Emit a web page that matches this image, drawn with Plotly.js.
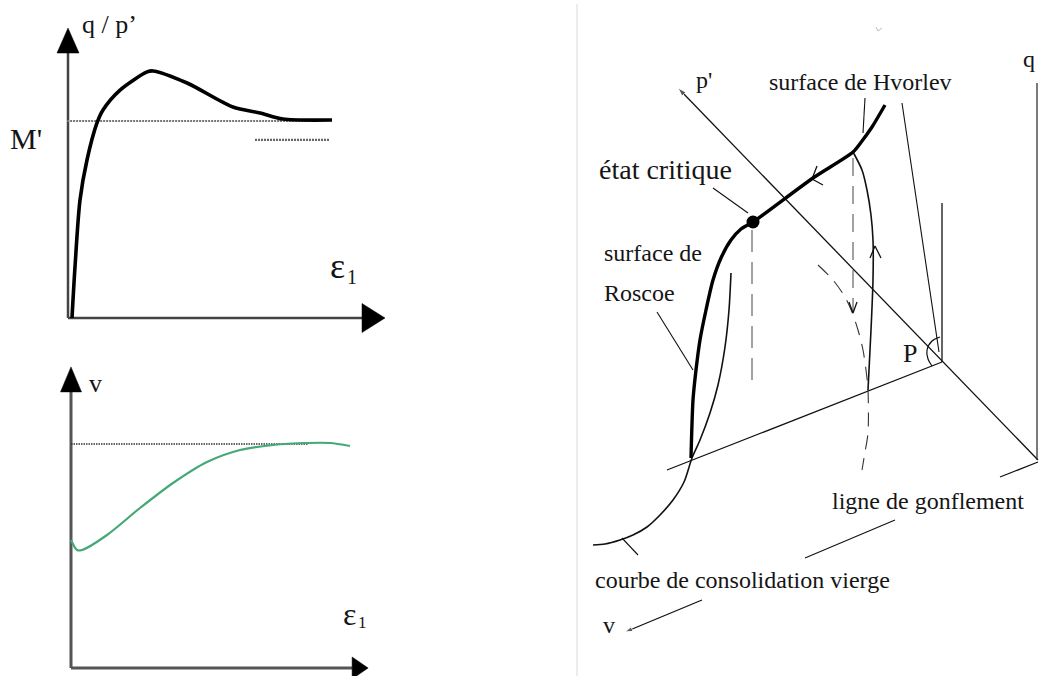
<!DOCTYPE html>
<html>
<head>
<meta charset="utf-8">
<script src="https://cdn.plot.ly/plotly-3.0.1.min.js"></script>
<style>html,body{margin:0;padding:0;background:#fff;}#chart{width:1053px;height:676px;}</style>
</head>
<body>
<div id="chart"></div>
<script>
// ---------- Top-left: q/p' versus axial strain eps1 ----------
const epsTop = [0.136, 0.238, 0.408, 0.646, 0.986, 1.19, 1.77, 2.69, 2.89, 4.05, 5.61, 6.53, 7.31, 8.98];
const qpTop  = [0, 0.259, 0.599, 0.802, 0.990, 1.056, 1.157, 1.249, 1.254, 1.193, 1.071, 1.041, 1.010, 1.005];
const mCrit = 1.0;            // M'
const mCritEps = [-0.03, 8.16];
const mLow = 0.904;
const mLowEps = [6.36, 8.91];
const topAxisEpsMax = 10, topAxisQpMax = 1.345;

// ---------- Bottom-left: specific volume v versus eps1 ----------
const epsBot = [0, 0.214, 0.393, 1.286, 2.464, 3.643, 4.857, 6.036, 7.214, 8.429, 9.25, 9.964];
const vBot   = [1.8286, 1.8107, 1.8107, 1.8375, 1.8857, 1.9304, 1.9679, 1.9893, 1.9982, 2.0018, 2.0018, 1.9964];
const vCrit = 2.0;
const vCritEps = [0, 8.46];
const botAxisEpsMax = 10.04, botV0 = 1.6, botAxisVMax = 2.093;

// ---------- Right: state boundary surface in (p', q, v) space (diagram units) ----------
const pAxisX = [1038, 678], pAxisY = [460, 88];
const qAxisX = [1037, 1037], qAxisY = [460, 83];
const vAxisX = [702, 625], vAxisY = [600, 632];
const swellX = [667, 942], swellY = [470, 362];
const stubX = [1000, 1038], stubY = [477, 462];
const pVertX = [942, 942], pVertY = [203, 362];
const stateX = [885, 872, 862, 853, 813, 753, 741, 731, 721, 713, 706, 700, 696, 693, 691];
const stateY = [105, 127, 141, 152, 178, 222, 229, 240, 258, 280, 310, 340, 370, 400, 458];
const ncX = [731, 729, 725, 718, 710, 700, 692, 684, 673, 660, 647, 633, 620, 605, 593];
const ncY = [273, 310, 347, 385, 413, 440, 458, 482, 500, 515, 527, 535, 540, 544, 545];
const elasticX = [853, 862, 867, 871, 873, 873, 871, 868];
const elasticY = [152, 170, 190, 215, 240, 280, 330, 390];
const dashArcX = [818, 833, 845, 852, 858, 863, 866, 868, 868, 865, 862];
const dashArcY = [265, 280, 297, 312, 330, 350, 370, 390, 433, 452, 470];
const critDropX = [752, 752], critDropY = [230, 390];
const hvDropX = [853, 853], hvDropY = [158, 312];
const critX = [753], critY = [222];
const leaderX = [713, 748, null, 657, 693, null, 865, 863, null, 902, 939, null, 805, 895, null, 622, 638];
const leaderY = [188, 213, null, 312, 370, null, 98, 133, null, 103, 352, null, 558, 520, null, 538, 555];
const chevX = [817, 812, 823, null, 870, 875, 881, null, 849, 853, 857];
const chevY = [166, 179, 185, null, 258, 246, 258, null, 302, 313, 302];
const pArcX = [940, 932, 927, 928, 932], pArcY = [337, 341, 350, 359, 366];

// linear maps (used only to place left-panel decorations in page pixels)
const topPx = e => 68 + e * 29.4, topPy = q => 318 - q * 197;
const botPx = e => 71 + e * 28, botPy = v => 668 - (v - botV0) * 560;

function tri(tipX, tipY, dir, len, half) {
  if (dir === 'up') return {x: [tipX - half, tipX + half, tipX, tipX - half], y: [tipY + len, tipY + len, tipY, tipY + len]};
  return {x: [tipX - len, tipX - len, tipX, tipX - len], y: [tipY - half, tipY + half, tipY, tipY - half]};
}
const heads = [
  tri(topPx(0), topPy(topAxisQpMax) - 25, 'up', 25, 11),
  tri(topPx(topAxisEpsMax) + 23, topPy(0), 'right', 23, 14.5),
  tri(botPx(0), botPy(botAxisVMax) - 25, 'up', 25, 10.5),
  tri(botPx(botAxisEpsMax) + 16, botPy(botV0), 'right', 16, 11)
];

const ink = '#111';
const traces = [];
// top-left
traces.push({x: [0, 0, null, 0, topAxisEpsMax], y: [0, topAxisQpMax, null, 0, 0], xaxis: 'x', yaxis: 'y', mode: 'lines', line: {color: '#444', width: 2.5}});
traces.push({x: mCritEps, y: [mCrit, mCrit], xaxis: 'x', yaxis: 'y', mode: 'lines', line: {color: '#777', width: 2.2, dash: '2px,1px'}});
traces.push({x: mLowEps, y: [mLow, mLow], xaxis: 'x', yaxis: 'y', mode: 'lines', line: {color: '#666', width: 2.2, dash: '2px,1px'}});
traces.push({x: epsTop, y: qpTop, xaxis: 'x', yaxis: 'y', mode: 'lines', line: {color: '#000', width: 3.6, shape: 'spline', smoothing: 0.8}});
// bottom-left
traces.push({x: [0, 0, null, 0, botAxisEpsMax], y: [botV0, botAxisVMax, null, botV0, botV0], xaxis: 'x2', yaxis: 'y2', mode: 'lines', line: {color: '#555', width: 3}});
traces.push({x: vCritEps, y: [vCrit, vCrit], xaxis: 'x2', yaxis: 'y2', mode: 'lines', line: {color: '#333', width: 1.6, dash: '1.5px,1px'}});
traces.push({x: epsBot, y: vBot, xaxis: 'x2', yaxis: 'y2', mode: 'lines', line: {color: '#45a877', width: 2.2, shape: 'spline', smoothing: 0.8}});
// arrowheads
heads.forEach(h => traces.push({x: h.x, y: h.y, xaxis: 'x3', yaxis: 'y3', mode: 'lines', fill: 'toself', fillcolor: '#000', line: {color: '#000', width: 0.5}}));
// separator
traces.push({x: [577, 577], y: [4, 676], xaxis: 'x3', yaxis: 'y3', mode: 'lines', line: {color: '#ececec', width: 2}});
traces.push({x: [876, 878, 882], y: [27, 31, 28], xaxis: 'x3', yaxis: 'y3', mode: 'lines', line: {color: '#bbb', width: 1}});
// right diagram
const thin = {color: ink, width: 1.3};
traces.push({x: pAxisX, y: pAxisY, xaxis: 'x3', yaxis: 'y3', mode: 'lines+markers', line: thin,
  marker: {symbol: 'arrow', angleref: 'previous', size: [0, 9], color: ink}});
traces.push({x: vAxisX, y: vAxisY, xaxis: 'x3', yaxis: 'y3', mode: 'lines+markers', line: thin,
  marker: {symbol: 'arrow', angleref: 'previous', size: [0, 8], color: ink}});
traces.push({x: qAxisX, y: qAxisY, xaxis: 'x3', yaxis: 'y3', mode: 'lines', line: {color: '#333', width: 1.3}});
traces.push({x: swellX, y: swellY, xaxis: 'x3', yaxis: 'y3', mode: 'lines', line: thin});
traces.push({x: stubX, y: stubY, xaxis: 'x3', yaxis: 'y3', mode: 'lines', line: thin});
traces.push({x: pVertX, y: pVertY, xaxis: 'x3', yaxis: 'y3', mode: 'lines', line: thin});
traces.push({x: leaderX, y: leaderY, xaxis: 'x3', yaxis: 'y3', mode: 'lines', line: {color: ink, width: 1.1}});
traces.push({x: ncX, y: ncY, xaxis: 'x3', yaxis: 'y3', mode: 'lines', line: {color: ink, width: 1.6, shape: 'spline', smoothing: 0.8}});
traces.push({x: elasticX, y: elasticY, xaxis: 'x3', yaxis: 'y3', mode: 'lines', line: {color: ink, width: 1.6, shape: 'spline', smoothing: 0.8}});
traces.push({x: dashArcX, y: dashArcY, xaxis: 'x3', yaxis: 'y3', mode: 'lines', line: {color: '#333', width: 1.1, dash: '14px,9px', shape: 'spline', smoothing: 0.8}});
traces.push({x: critDropX, y: critDropY, xaxis: 'x3', yaxis: 'y3', mode: 'lines', line: {color: '#444', width: 1, dash: '22px,10px'}});
traces.push({x: hvDropX, y: hvDropY, xaxis: 'x3', yaxis: 'y3', mode: 'lines', line: {color: '#444', width: 1, dash: '18px,10px'}});
traces.push({x: chevX, y: chevY, xaxis: 'x3', yaxis: 'y3', mode: 'lines', line: {color: ink, width: 1.3}});
traces.push({x: pArcX, y: pArcY, xaxis: 'x3', yaxis: 'y3', mode: 'lines', line: {color: ink, width: 1.2, shape: 'spline'}});
traces.push({x: stateX, y: stateY, xaxis: 'x3', yaxis: 'y3', mode: 'lines', line: {color: '#000', width: 3.4, shape: 'spline', smoothing: 0.7}});
traces.push({x: critX, y: critY, xaxis: 'x3', yaxis: 'y3', mode: 'markers', marker: {color: '#000', size: 13}});

const serif = 'Liberation Serif, Times New Roman, serif';
function lab(text, x, y, size, opts) {
  return Object.assign({text: text, x: x, y: y, xref: 'x3', yref: 'y3', showarrow: false,
    xanchor: 'center', yanchor: 'middle', font: {family: serif, size: size, color: '#151515'}}, opts || {});
}
const annotations = [
  lab('q / p’', 109, 24, 26),
  lab("M'", 26, 138, 30),
  lab('ε', 337, 266, 36),
  lab('1', 352, 277, 20),
  lab('v', 95, 383, 26),
  lab('ε', 349, 614, 32),
  lab('1', 362, 622, 17),
  lab("p'", 704, 80, 24),
  lab('surface de Hvorlev', 860, 82, 24),
  lab('q', 1029, 59, 24),
  lab('état critique', 665, 169, 28),
  lab('surface de', 602, 253, 24, {xanchor: 'left'}),
  lab('Roscoe', 602, 293, 24, {xanchor: 'left'}),
  lab('P', 910, 353, 26),
  lab('ligne de gonflement', 928, 501, 24),
  lab('courbe de consolidation vierge', 742, 580, 24),
  lab('v', 609, 625, 24)
];

const hid = {visible: false, fixedrange: true};
const layout = {
  width: 1053, height: 676, autosize: false,
  margin: {l: 0, r: 0, t: 0, b: 0, pad: 0},
  paper_bgcolor: '#fff', plot_bgcolor: '#fff', showlegend: false,
  xaxis: Object.assign({domain: [0, 1], range: [-68 / 29.4, 985 / 29.4]}, hid),
  yaxis: Object.assign({domain: [0, 1], range: [-358 / 197, 318 / 197]}, hid),
  xaxis2: Object.assign({domain: [0, 1], overlaying: 'x', range: [-71 / 28, 982 / 28]}, hid),
  yaxis2: Object.assign({domain: [0, 1], overlaying: 'y', range: [botV0 - 8 / 560, botV0 + 668 / 560]}, hid),
  xaxis3: Object.assign({domain: [0, 1], overlaying: 'x', range: [0, 1053]}, hid),
  yaxis3: Object.assign({domain: [0, 1], overlaying: 'y', range: [676, 0]}, hid),
  annotations: annotations
};
traces.forEach(t => { t.hoverinfo = 'skip'; });
Plotly.newPlot('chart', traces, layout, {staticPlot: true, displayModeBar: false});
</script>
</body>
</html>
